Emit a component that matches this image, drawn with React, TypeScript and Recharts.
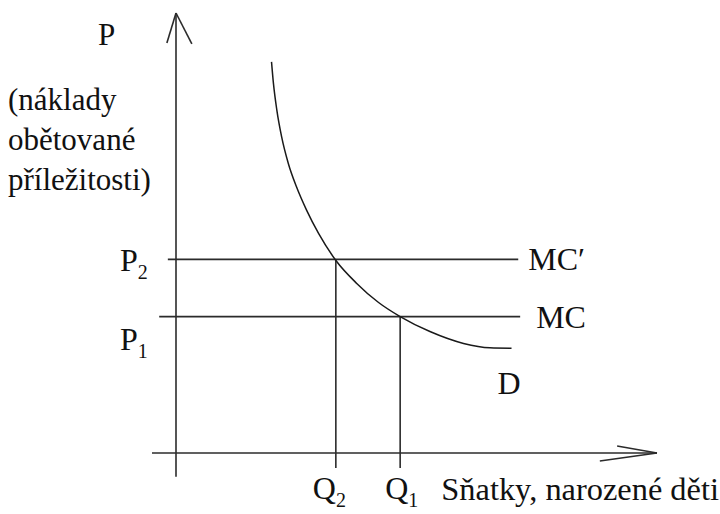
import React from "react";
import { LineChart, Line, XAxis, YAxis, ReferenceLine, ReferenceDot } from "recharts";

// demand curve D (quantity, opportunity cost)
const demandQ = [19.9, 20.3, 21.0, 22.0, 23.4, 25.1, 27.2, 29.7, 33.35, 37.6, 42.2, 46.7, 52.9, 59.9, 65.4, 69.9];
const demandP = [88.9, 84.0, 78.0, 71.9, 65.8, 60.5, 55.2, 49.9, 43.7, 38.6, 34.2, 31.0, 27.6, 24.9, 23.9, 23.8];

// marginal cost levels: MC′ (P2) and MC (P1)
const costNames = ["MC′", "MC"];
const costLevels = [44, 31];
const costStart = [-1.7, -3.5];
const costEnd = [71.3, 71.7];
const priceNames = ["P", "P"];
const priceSubs = ["2", "1"];

// equilibrium quantities Q2, Q1
const qtyNames = ["Q", "Q"];
const qtySubs = ["2", "1"];
const qtyValues = [33.3, 46.7];
const qtyPrices = [44, 31];
const dropBottom = -3.4;

// axes
const yAxisLine = [[0, -5.4], [0, 100]];
const xAxisLine = [[-5, 0], [100.2, 0]];
const yArrow = [[-1.9, 93.2], [0, 100], [3.3, 93]];
const xArrow = [[91.9, 1.6], [100.2, 0], [88.3, -1.8]];

const yTitle = ["P"];
const yNote = ["(náklady", "obětované", "příležitosti)"];
const xTitle = "Sňatky, narozené děti";
const curveName = "D";

const demand = demandQ.map((q, i) => ({ q, p: demandP[i] }));

const ink = "#2b2b2b";
const family = '"Liberation Serif", "DejaVu Serif", serif';
const txt = { fontFamily: family, fontSize: 32, fill: "#111" };
const note = { fontFamily: family, fontSize: 31, fill: "#111" };
const subFs = 20;

const seg = (a: number[], b: number[]) => [
  { x: a[0], y: a[1] },
  { x: b[0], y: b[1] },
];

function Sub({ x, y, main, sub }: { x: number; y: number; main: string; sub: string }) {
  return (
    <text x={x} y={y} style={txt}>
      {main}
      <tspan style={{ fontSize: subFs }} dy={8}>
        {sub}
      </tspan>
    </text>
  );
}

export default function App() {
  return (
    <div style={{ position: "absolute", left: 0, top: 0, width: 720, height: 514, background: "#fff" }}>
      <LineChart width={720} height={514} margin={{ top: 13, right: 59.2, bottom: 34.6, left: 147.2 }}>
        <XAxis type="number" dataKey="q" domain={[-6, 101]} allowDataOverflow hide />
        <YAxis type="number" dataKey="p" domain={[-6, 100]} allowDataOverflow hide />

        <ReferenceLine segment={seg(yAxisLine[0], yAxisLine[1])} stroke={ink} strokeWidth={1.6} ifOverflow="visible" />
        <ReferenceLine segment={seg(xAxisLine[0], xAxisLine[1])} stroke={ink} strokeWidth={1.6} ifOverflow="visible" />
        <ReferenceLine segment={seg(yArrow[0], yArrow[1])} stroke={ink} strokeWidth={1.6} ifOverflow="visible" />
        <ReferenceLine segment={seg(yArrow[1], yArrow[2])} stroke={ink} strokeWidth={1.6} ifOverflow="visible" />
        <ReferenceLine segment={seg(xArrow[0], xArrow[1])} stroke={ink} strokeWidth={1.6} ifOverflow="visible" />
        <ReferenceLine segment={seg(xArrow[1], xArrow[2])} stroke={ink} strokeWidth={1.6} ifOverflow="visible" />

        {costLevels.map((p, i) => (
          <ReferenceLine
            key={"mc" + i}
            segment={[
              { x: costStart[i], y: p },
              { x: costEnd[i], y: p },
            ]}
            stroke={ink}
            strokeWidth={1.6}
            ifOverflow="visible"
          />
        ))}
        {qtyValues.map((q, i) => (
          <ReferenceLine
            key={"q" + i}
            segment={[
              { x: q, y: qtyPrices[i] },
              { x: q, y: dropBottom },
            ]}
            stroke={ink}
            strokeWidth={1.6}
            ifOverflow="visible"
          />
        ))}

        <Line
          data={demand}
          dataKey="p"
          type="monotone"
          stroke="#1a1a1a"
          strokeWidth={1.5}
          dot={false}
          activeDot={false}
          isAnimationActive={false}
        />

        {/* price labels on the left of the P axis */}
        {costLevels.map((p, i) => (
          <ReferenceDot
            key={"pl" + i}
            x={0}
            y={p}
            r={0}
            ifOverflow="visible"
            shape={(s: any) => (
              <Sub x={s.cx - 56} y={s.cy + (i === 0 ? 12 : 33)} main={priceNames[i]} sub={priceSubs[i]} />
            )}
          />
        ))}
        {/* MC names at the right end of each line */}
        {costLevels.map((p, i) => (
          <ReferenceDot
            key={"mcl" + i}
            x={costEnd[i]}
            y={p}
            r={0}
            ifOverflow="visible"
            shape={(s: any) => (
              <text x={s.cx + (i === 0 ? 10 : 16)} y={s.cy + 11} style={txt}>
                {costNames[i]}
              </text>
            )}
          />
        ))}
        {/* quantity labels under the Q axis */}
        {qtyValues.map((q, i) => (
          <ReferenceDot
            key={"ql" + i}
            x={q}
            y={0}
            r={0}
            ifOverflow="visible"
            shape={(s: any) => (
              <Sub x={s.cx - (i === 0 ? 23 : 15)} y={s.cy + 46} main={qtyNames[i]} sub={qtySubs[i]} />
            )}
          />
        ))}
        <ReferenceDot
          x={demandQ[demandQ.length - 1]}
          y={demandP[demandP.length - 1]}
          r={0}
          ifOverflow="visible"
          shape={(s: any) => (
            <text x={s.cx - 14} y={s.cy + 46} style={txt}>
              {curveName}
            </text>
          )}
        />
        <ReferenceDot
          x={xAxisLine[1][0]}
          y={0}
          r={0}
          ifOverflow="visible"
          shape={(s: any) => (
            <text
              x={s.cx + 62}
              y={s.cy + 47}
              textAnchor="end"
              style={{ ...txt, fontSize: 32.4 }}
            >
              {xTitle}
            </text>
          )}
        />
        <ReferenceDot
          x={0}
          y={100}
          r={0}
          ifOverflow="visible"
          shape={(s: any) => (
            <g>
              <text x={s.cx - 78} y={s.cy + 32} style={note}>
                {yTitle[0]}
              </text>
              {yNote.map((t, k) => (
                <text key={k} x={s.cx - 168} y={s.cy + 97 + k * 40} style={note}>
                  {t}
                </text>
              ))}
            </g>
          )}
        />
      </LineChart>
    </div>
  );
}
